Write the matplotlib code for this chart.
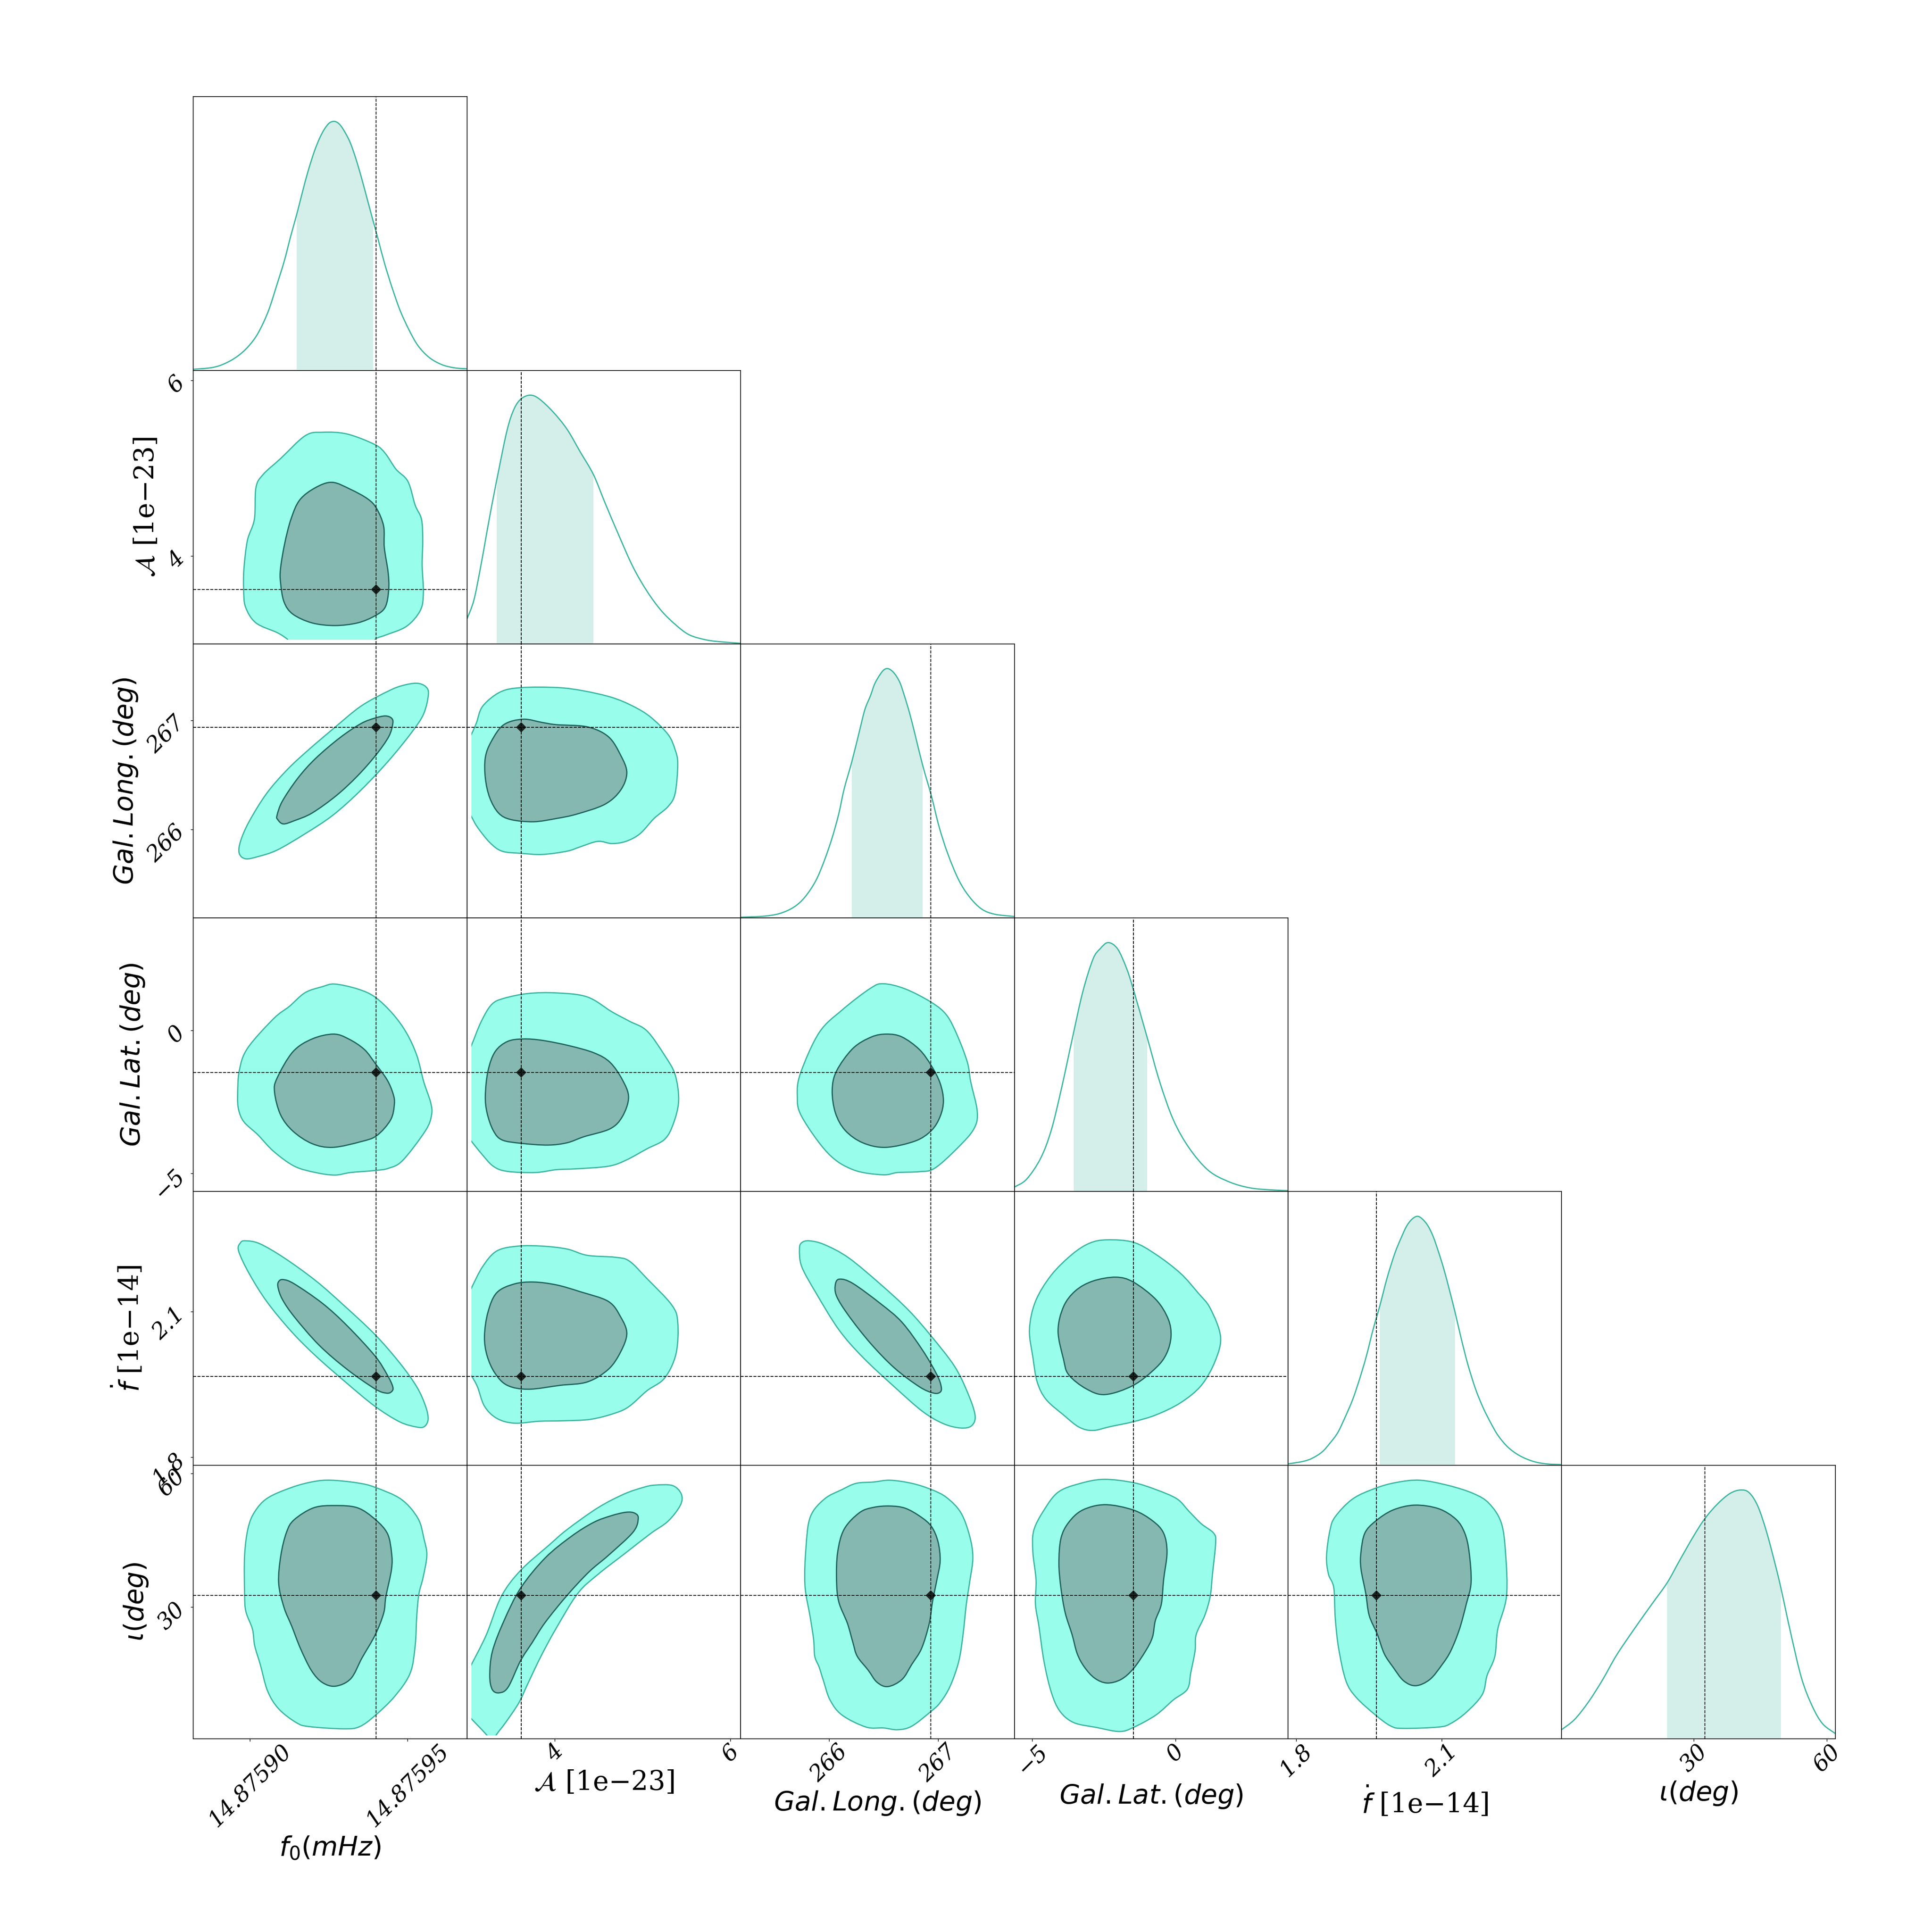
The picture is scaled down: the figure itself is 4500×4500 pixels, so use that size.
import numpy as np
import matplotlib
matplotlib.use('Agg')
import matplotlib.pyplot as plt
from matplotlib.patches import PathPatch, Rectangle
from matplotlib.path import Path

plt.rcParams['font.family'] = ['DejaVu Serif']

# Parameters. f0 values below are offsets from 14.8759 mHz in units of 1e-5 mHz.
labels = [r'$f_0 (mHz)$', '$\\mathcal{A}$ [1e\u221223]', r'$Gal. Long. (deg)$',
          r'$Gal. Lat. (deg)$', '$\\dot{f}$ [1e\u221214]', r'$\iota (deg)$']
lims = [(-1.8, 6.88), (3.0, 6.115), (265.19, 267.70), (-5.63, 3.94), (1.7836, 2.3478), (0.36, 61.9)]
grid_lo = [-1.8, 3.05, 265.19, -5.63, 1.7836, 1.1]
truths = [4.0, 3.62, 266.935, -1.47, 1.966, 32.6]
ticks = [[0, 5], [4, 6], [266, 267], [-5, 0], [1.8, 2.1], [30, 60]]
tick_labels = [['14.87590', '14.87595'], ['4', '6'], ['266', '267'],
               ['\u22125', '0'], ['1.8', '2.1'], ['30', '60']]

# 1D marginals: x, density relative to the peak, shaded interval
f0_x = [-1.80, -1.20, -0.80, -0.40, -0.05, 0.26, 0.58, 0.85, 1.09, 1.29, 1.48, 1.67, 1.84, 2.04, 2.21, 2.37, 2.53, 2.70, 2.86, 3.03, 3.19, 3.36, 3.53, 3.73, 3.90, 4.07, 4.27, 4.50, 4.76, 5.05, 5.33, 5.68, 6.08, 6.48, 6.88]
f0_d = [.004, .011, .027, .056, .096, .15, .237, .342, .44, .538, .625, .719, .799, .879, .933, .971, .995, 1, .986, .953, .912, .85, .777, .683, .603, .524, .429, .335, .241, .161, .099, .052, .023, .01, .006]
f0_band = (1.48, 3.90)
amp_x = [3.00, 3.08, 3.16, 3.26, 3.36, 3.46, 3.54, 3.62, 3.72, 3.82, 3.98, 4.14, 4.29, 4.44, 4.57, 4.73, 4.89, 5.05, 5.21, 5.37, 5.53, 5.73, 5.92, 6.115]
amp_d = [.10, .177, .317, .513, .695, .863, .947, .986, 1, .986, .933, .863, .772, .681, .569, .436, .31, .212, .135, .079, .037, .016, .008, .003]
amp_band = (3.34, 4.44)
lon_x = [265.19, 265.40, 265.55, 265.68, 265.78, 265.88, 265.96, 266.03, 266.09, 266.14, 266.21, 266.28, 266.33, 266.38, 266.42, 266.47, 266.51, 266.55, 266.60, 266.65, 266.69, 266.74, 266.79, 266.86, 266.94, 267.01, 267.09, 267.19, 267.29, 267.40, 267.52, 267.70]
lon_d = [.002, .006, .017, .043, .083, .149, .232, .322, .417, .518, .627, .75, .837, .891, .94, .978, .998, 1, .982, .946, .895, .822, .736, .612, .489, .366, .257, .152, .083, .035, .014, .005]
lon_band = (266.21, 266.86)
lat_x = [-5.62, -5.20, -4.71, -4.34, -3.98, -3.61, -3.24, -2.88, -2.63, -2.35, -2.02, -1.71, -1.47, -0.98, -0.55, -0.07, 0.48, 1.16, 1.89, 2.62, 3.35, 3.94]
lat_d = [.018, .049, .133, .245, .414, .61, .80, .933, .975, 1, .975, .898, .813, .617, .442, .288, .175, .084, .038, .014, .006, .003]
lat_band = (-3.55, -0.98)
fdot_x = [1.784, 1.815, 1.834, 1.854, 1.870, 1.886, 1.901, 1.917, 1.931, 1.945, 1.959, 1.973, 1.988, 2.004, 2.017, 2.028, 2.039, 2.050, 2.060, 2.072, 2.083, 2.094, 2.105, 2.117, 2.128, 2.140, 2.154, 2.170, 2.186, 2.202, 2.217, 2.237, 2.261, 2.289, 2.316, 2.348]
fdot_d = [.005, .015, .028, .053, .088, .13, .191, .264, .345, .437, .545, .641, .753, .852, .914, .96, .988, 1, .99, .962, .918, .856, .787, .699, .614, .514, .407, .307, .23, .168, .118, .072, .038, .015, .005, .002]
fdot_band = (1.973, 2.128)
inc_x = [.36, 3.27, 6.41, 9.55, 12.69, 16.62, 20.54, 24.07, 26.82, 29.96, 32.55, 35.46, 38.2, 40.56, 42.52, 44.48, 46.45, 48.41, 49.66, 51.94, 54.3, 56.65, 59.0, 61.9]
inc_d = [.037, .078, .149, .237, .336, .44, .539, .627, .715, .813, .885, .945, .986, 1, .989, .934, .83, .698, .605, .418, .243, .133, .061, .021]
inc_band = (24.07, 49.66)

# 2D contours (x param, y param), 95% outer and 68% inner
f0_amp_out_x = [2.30, 3.08, 3.96, 4.29, 4.63, 5.01, 5.24, 5.44, 5.48, 5.46, 5.50, 5.40, 4.96, 4.29, 3.99, 3.7, 1.5, 1.17, 0.86, 0.19, -0.14, -0.20, -0.19, -0.08, 0.14, 0.19, 0.42, 0.97, 1.75]
f0_amp_out_y = [5.41, 5.39, 5.27, 5.17, 4.99, 4.85, 4.58, 4.42, 4.18, 3.90, 3.58, 3.38, 3.20, 3.10, 3.06, 2.97, 2.97, 3.06, 3.13, 3.24, 3.42, 3.62, 3.86, 4.18, 4.42, 4.78, 4.93, 5.11, 5.37]
f0_amp_in_x = [2.61, 3.19, 3.74, 4.02, 4.24, 4.26, 4.38, 4.40, 4.29, 3.96, 3.41, 2.69, 1.97, 1.36, 1.08, 0.97, 0.97, 1.10, 1.30, 1.58, 2.08]
f0_amp_in_y = [4.84, 4.76, 4.65, 4.54, 4.34, 4.10, 3.82, 3.62, 3.42, 3.32, 3.24, 3.21, 3.24, 3.34, 3.48, 3.70, 3.86, 4.14, 4.42, 4.64, 4.78]

f0_lon_out_x = [5.29, 5.57, 5.66, 5.51, 5.13, 4.40, 3.52, 2.63, 1.75, 0.86, 0.25, -0.14, -0.34, -0.30, -0.03, 0.53, 1.19, 1.86, 2.63, 3.52, 4.40, 4.85]
f0_lon_out_y = [267.34, 267.31, 267.24, 267.06, 266.89, 266.63, 266.36, 266.13, 265.96, 265.81, 265.75, 265.73, 265.78, 265.89, 266.07, 266.33, 266.55, 266.73, 266.92, 267.13, 267.27, 267.32]
f0_lon_in_x = [4.29, 4.49, 4.53, 4.40, 3.99, 3.41, 2.74, 1.97, 1.41, 1.06, 0.88, 0.86, 1.03, 1.52, 2.08, 2.85, 3.52, 3.96]
f0_lon_in_y = [267.04, 267.02, 266.97, 266.85, 266.68, 266.49, 266.31, 266.15, 266.08, 266.05, 266.09, 266.13, 266.26, 266.47, 266.65, 266.84, 266.97, 267.02]

amp_lon_out_x = [3.62, 4.04, 4.33, 4.65, 4.89, 5.09, 5.29, 5.37, 5.40, 5.37, 5.29, 5.13, 4.97, 4.81, 4.65, 4.49, 4.29, 4.14, 3.86, 3.62, 3.40, 3.26, 3.12, 3.05, 2.97, 2.97, 3.05, 3.11, 3.18, 3.38]
amp_lon_out_y = [267.30, 267.30, 267.27, 267.21, 267.13, 267.03, 266.87, 266.73, 266.60, 266.33, 266.21, 266.10, 265.96, 265.89, 265.87, 265.89, 265.84, 265.80, 265.77, 265.78, 265.80, 265.88, 266.02, 266.12, 266.24, 266.75, 266.87, 266.98, 267.13, 267.26]
amp_lon_in_x = [3.64, 3.86, 4.02, 4.37, 4.61, 4.75, 4.82, 4.75, 4.57, 4.25, 4.02, 3.76, 3.50, 3.36, 3.26, 3.21, 3.21, 3.28, 3.42]
amp_lon_in_y = [267.01, 266.98, 266.96, 266.94, 266.85, 266.68, 266.52, 266.36, 266.23, 266.14, 266.10, 266.07, 266.09, 266.15, 266.29, 266.47, 266.66, 266.81, 266.96]

f0_lat_out_x = [2.69, 3.41, 3.96, 4.52, 4.96, 5.29, 5.51, 5.73, 5.76, 5.57, 4.85, 4.40, 3.96, 3.19, 2.69, 2.08, 1.41, 0.75, 0.25, -0.19, -0.36, -0.39, -0.34, -0.08, 0.75, 1.25, 1.75, 2.30]
f0_lat_out_y = [1.62, 1.45, 1.17, 0.59, -0.08, -0.87, -1.79, -2.52, -2.95, -3.50, -4.54, -4.82, -4.90, -4.97, -5.06, -4.97, -4.75, -4.23, -3.65, -3.20, -2.77, -2.28, -1.42, -0.63, 0.41, 0.84, 1.32, 1.53]
f0_lat_in_x = [2.65, 3.13, 3.63, 3.99, 4.35, 4.54, 4.58, 4.46, 4.02, 3.52, 2.63, 1.97, 1.36, 0.97, 0.78, 0.86, 1.36, 1.97]
f0_lat_in_y = [-0.13, -0.30, -0.67, -1.18, -1.73, -2.22, -2.58, -3.13, -3.68, -3.89, -4.09, -3.96, -3.52, -2.95, -2.16, -1.67, -0.75, -0.30]

amp_lat_out_x = [4.02, 4.37, 4.65, 4.85, 5.05, 5.25, 5.37, 5.41, 5.35, 5.25, 5.05, 4.81, 4.61, 4.25, 4.02, 3.78, 3.46, 3.30, 3.16, 3.05, 2.97, 2.97, 3.05, 3.16, 3.28, 3.42, 3.70]
amp_lat_out_y = [1.31, 1.17, 0.65, 0.32, -0.02, -0.87, -1.55, -2.46, -3.26, -3.81, -4.14, -4.54, -4.75, -4.84, -4.87, -4.97, -4.93, -4.75, -4.29, -3.87, -3.55, -1.1, -0.54, 0.29, 0.90, 1.12, 1.29]
amp_lat_in_x = [3.64, 3.86, 4.17, 4.45, 4.63, 4.77, 4.84, 4.77, 4.63, 4.33, 4.14, 3.92, 3.62, 3.40, 3.30, 3.23, 3.21, 3.24, 3.32, 3.46]
amp_lat_in_y = [-0.30, -0.35, -0.54, -0.79, -1.12, -1.73, -2.34, -3.01, -3.44, -3.72, -3.93, -4.01, -3.95, -3.83, -3.50, -2.89, -2.28, -1.42, -0.75, -0.39]

lon_lat_out_x = [266.50, 266.70, 266.94, 267.08, 267.18, 267.27, 267.30, 267.36, 267.33, 267.18, 266.97, 266.83, 266.63, 266.49, 266.22, 265.99, 265.75, 265.71, 265.74, 265.91, 266.12, 266.38]
lon_lat_out_y = [1.63, 1.45, 0.98, 0.53, -0.20, -1.12, -1.79, -2.83, -3.44, -4.11, -4.82, -4.94, -4.97, -5.05, -4.87, -4.29, -3.01, -2.28, -1.49, -0.08, 0.71, 1.47]
lon_lat_in_x = [266.53, 266.67, 266.83, 266.94, 267.02, 267.05, 267.02, 266.94, 266.79, 266.52, 266.31, 266.15, 266.06, 266.03, 266.07, 266.22, 266.39]
lon_lat_in_y = [-0.13, -0.23, -0.67, -1.24, -1.85, -2.46, -3.01, -3.50, -3.87, -4.09, -3.93, -3.50, -2.89, -2.10, -1.42, -0.63, -0.23]

f0_fdot_out_x = [-0.14, 0.31, 1.08, 2.08, 2.96, 3.96, 4.74, 5.29, 5.57, 5.65, 5.53, 5.29, 4.74, 3.96, 3.08, 2.08, 1.30, 0.53, -0.03, -0.36, -0.30]
f0_fdot_out_y = [2.246, 2.240, 2.211, 2.164, 2.114, 2.053, 1.995, 1.945, 1.905, 1.878, 1.863, 1.862, 1.873, 1.905, 1.952, 2.009, 2.060, 2.121, 2.179, 2.225, 2.242]
f0_fdot_in_x = [1.06, 1.41, 2.30, 3.08, 3.96, 4.35, 4.53, 4.49, 4.32, 3.96, 3.08, 2.19, 1.41, 1.03, 0.89, 0.91]
f0_fdot_in_y = [2.166, 2.157, 2.117, 2.071, 2.009, 1.970, 1.945, 1.935, 1.932, 1.941, 1.981, 2.031, 2.089, 2.125, 2.150, 2.162]

amp_fdot_out_x = [3.86, 4.14, 4.37, 4.69, 4.85, 5.05, 5.33, 5.40, 5.38, 5.25, 5.05, 4.85, 4.69, 4.41, 4.10, 3.82, 3.54, 3.34, 3.20, 3.12, 3.05, 2.97, 2.97, 3.05, 3.18, 3.34, 3.58]
amp_fdot_out_y = [2.235, 2.229, 2.216, 2.212, 2.204, 2.168, 2.114, 2.078, 2.013, 1.963, 1.937, 1.905, 1.891, 1.878, 1.875, 1.874, 1.870, 1.880, 1.905, 1.945, 1.968, 1.988, 2.117, 2.148, 2.193, 2.225, 2.235]
amp_fdot_in_x = [3.76, 4.02, 4.29, 4.61, 4.75, 4.82, 4.75, 4.61, 4.37, 4.06, 3.70, 3.46, 3.32, 3.23, 3.20, 3.24, 3.34, 3.54]
amp_fdot_in_y = [2.161, 2.155, 2.141, 2.121, 2.089, 2.055, 2.017, 1.981, 1.955, 1.948, 1.940, 1.948, 1.973, 2.009, 2.049, 2.099, 2.139, 2.157]

lon_fdot_out_x = [265.82, 265.96, 266.18, 266.47, 266.73, 266.94, 267.15, 267.27, 267.34, 267.31, 267.21, 267.05, 266.86, 266.60, 266.31, 266.09, 265.88, 265.75, 265.73, 265.75]
lon_fdot_out_y = [2.246, 2.238, 2.211, 2.157, 2.103, 2.049, 1.988, 1.934, 1.887, 1.865, 1.860, 1.869, 1.894, 1.945, 2.006, 2.063, 2.139, 2.193, 2.229, 2.242]
lon_fdot_in_x = [266.10, 266.22, 266.47, 266.67, 266.86, 266.99, 267.03, 267.02, 266.96, 266.83, 266.60, 266.38, 266.18, 266.07, 266.06]
lon_fdot_in_y = [2.167, 2.158, 2.117, 2.078, 2.020, 1.970, 1.945, 1.934, 1.932, 1.945, 1.984, 2.035, 2.092, 2.132, 2.157]

lat_fdot_out_x = [-2.39, -1.47, -0.68, 0.18, 0.79, 1.22, 1.58, 1.40, 0.91, 0.18, -0.68, -1.47, -2.27, -2.88, -3.37, -3.91, -4.52, -4.83, -4.98, -5.10, -4.89, -4.34, -3.61, -3.00]
lat_fdot_out_y = [2.248, 2.243, 2.218, 2.179, 2.139, 2.107, 2.049, 1.999, 1.948, 1.912, 1.887, 1.873, 1.863, 1.855, 1.862, 1.887, 1.919, 1.955, 2.006, 2.063, 2.121, 2.175, 2.218, 2.241]
lat_fdot_in_x = [-2.08, -1.47, -0.68, -0.25, -0.15, -0.31, -0.68, -1.47, -2.45, -3.12, -3.73, -3.91, -4.10, -3.91, -3.49, -2.88]
lat_fdot_in_y = [2.171, 2.161, 2.125, 2.085, 2.049, 2.013, 1.984, 1.948, 1.929, 1.941, 1.970, 2.002, 2.060, 2.110, 2.143, 2.163]

f0_inc_out_x = [2.58, 3.41, 3.97, 4.80, 5.33, 5.52, 5.61, 5.49, 5.36, 5.29, 5.24, 5.08, 4.59, 3.97, 3.48, 2.99, 1.88, 1.47, 0.91, 0.56, 0.33, 0.15, 0.08, -0.13, -0.17, -0.17, -0.06, 0.15, 0.56, 1.33, 2.02]
f0_inc_out_y = [58.5, 57.9, 56.9, 54.2, 49.9, 45.3, 41.6, 36.6, 33.0, 28.0, 21.3, 15.1, 9.9, 5.6, 3.1, 2.6, 3.1, 4.0, 7.1, 11.1, 17.0, 21.3, 25.0, 29.0, 33.0, 41.6, 47.7, 51.4, 54.5, 56.9, 58.2]
f0_inc_in_x = [2.69, 3.41, 3.97, 4.36, 4.49, 4.49, 4.31, 4.24, 3.97, 3.55, 3.20, 2.72, 2.30, 1.95, 1.60, 1.33, 1.08, 0.91, 0.98, 1.16, 1.40, 2.02]
f0_inc_in_y = [52.8, 52.3, 49.7, 46.5, 42.2, 38.5, 32.3, 28.6, 23.7, 18.5, 13.9, 12.2, 13.0, 15.7, 20.7, 25.6, 29.9, 35.4, 41.6, 46.8, 49.6, 52.3]

amp_inc_out_x = [5.14, 5.34, 5.44, 5.43, 5.29, 5.09, 4.79, 4.49, 4.26, 4.01, 3.84, 3.69, 3.59, 3.44, 3.33, 3.29, 3.23, 3.04, 2.94, 2.89, 2.94, 3.04, 3.22, 3.39, 3.61, 3.94, 4.14, 4.49, 4.79, 5.01]
amp_inc_out_y = [57.4, 57.3, 55.4, 52.9, 49.3, 46.5, 41.9, 37.3, 33.0, 25.0, 18.8, 12.6, 8.4, 4.0, 1.1, -0.9, 1.1, 5.1, 7.4, 10.2, 12.6, 16.6, 23.7, 32.3, 38.2, 44.0, 47.4, 52.3, 55.4, 56.9]
amp_inc_in_x = [4.81, 4.91, 4.95, 4.89, 4.61, 4.39, 4.14, 3.89, 3.74, 3.61, 3.47, 3.37, 3.29, 3.26, 3.29, 3.42, 3.61, 3.89, 4.19, 4.44, 4.64]
amp_inc_in_y = [51.3, 51.1, 49.9, 46.8, 41.6, 37.9, 32.6, 26.5, 21.9, 17.9, 12.0, 10.7, 11.4, 14.5, 20.0, 26.8, 34.2, 41.0, 45.9, 49.0, 50.5]

lon_inc_out_x = [266.56, 266.76, 266.94, 267.08, 267.21, 267.29, 267.32, 267.29, 267.26, 267.23, 267.19, 267.11, 267.02, 266.94, 266.76, 266.63, 266.50, 266.34, 266.12, 266.01, 265.95, 265.91, 265.87, 265.86, 265.83, 265.78, 265.79, 265.83, 265.96, 266.12, 266.25, 266.41]
lon_inc_out_y = [58.5, 57.8, 56.4, 54.6, 51.2, 46.0, 41.1, 35.5, 30.6, 23.8, 17.7, 12.1, 8.5, 6.6, 3.2, 2.4, 2.8, 3.0, 5.7, 9.1, 13.4, 16.5, 18.9, 22.6, 27.5, 34.9, 43.5, 50.3, 54.3, 56.4, 57.8, 58.1]
lon_inc_in_x = [266.56, 266.70, 266.84, 266.94, 267.00, 267.02, 266.99, 266.95, 266.92, 266.85, 266.76, 266.67, 266.54, 266.44, 266.36, 266.26, 266.22, 266.17, 266.09, 266.07, 266.08, 266.14, 266.28, 266.41]
lon_inc_in_y = [52.7, 52.2, 50.3, 48.1, 44.7, 40.4, 36.1, 31.2, 26.3, 20.7, 17.1, 13.7, 12.1, 13.1, 15.8, 18.9, 22.0, 26.3, 31.2, 36.1, 42.3, 47.5, 51.2, 52.4]

lat_inc_out_x = [-2.51, -1.47, -0.68, 0.06, 0.48, 0.91, 1.34, 1.41, 1.30, 1.22, 1.03, 0.73, 0.69, 0.54, 0.42, -0.07, -0.68, -1.47, -1.96, -2.75, -3.55, -4.04, -4.34, -4.59, -4.77, -4.89, -4.87, -4.98, -4.95, -4.59, -4.10, -3.37]
lat_inc_out_y = [58.7, 57.96, 56.4, 54.3, 51.5, 48.7, 46.6, 44.4, 37.4, 32.4, 28.1, 23.8, 20.1, 15.2, 11.5, 9.1, 5.7, 2.9, 2.0, 2.9, 4.0, 6.6, 10.9, 17.7, 25.7, 30.6, 36.1, 42.3, 47.2, 51.8, 55.8, 57.7]
lat_inc_in_x = [-2.45, -1.47, -0.80, -0.41, -0.29, -0.41, -0.49, -0.70, -0.80, -1.04, -1.47, -1.90, -2.39, -2.82, -3.18, -3.43, -3.61, -3.85, -4.00, -4.07, -4.00, -3.73, -3.24]
lat_inc_in_y = [53.0, 51.8, 49.4, 46.6, 42.3, 36.1, 30.6, 26.9, 23.2, 20.1, 16.1, 13.7, 12.9, 14.0, 16.5, 19.5, 23.8, 28.7, 34.3, 39.8, 45.4, 49.0, 51.8]

fdot_inc_out_x = [2.056, 2.115, 2.166, 2.198, 2.223, 2.232, 2.234, 2.216, 2.210, 2.194, 2.184, 2.151, 2.119, 2.094, 2.022, 1.996, 1.964, 1.924, 1.903, 1.888, 1.881, 1.878, 1.867, 1.863, 1.870, 1.881, 1.917, 1.964, 2.007]
fdot_inc_out_y = [58.5, 57.3, 55.5, 53.3, 49.0, 42.3, 32.4, 25.0, 18.9, 14.6, 10.3, 6.3, 3.8, 3.0, 2.7, 3.2, 5.7, 9.7, 13.4, 20.7, 27.5, 34.3, 37.4, 41.4, 47.2, 50.3, 54.3, 56.7, 58.0]
fdot_inc_in_x = [2.045, 2.094, 2.130, 2.148, 2.157, 2.161, 2.151, 2.137, 2.119, 2.101, 2.076, 2.047, 2.022, 2.000, 1.982, 1.968, 1.951, 1.944, 1.934, 1.934, 1.942, 1.964, 2.000]
fdot_inc_in_y = [52.9, 52.1, 49.7, 46.6, 42.3, 35.5, 30.6, 25.0, 20.1, 17.0, 13.7, 12.3, 13.4, 16.5, 19.5, 23.8, 28.1, 33.0, 38.6, 42.3, 46.6, 49.3, 51.8]

marginals = [(f0_x, f0_d, f0_band), (amp_x, amp_d, amp_band), (lon_x, lon_d, lon_band),
             (lat_x, lat_d, lat_band), (fdot_x, fdot_d, fdot_band), (inc_x, inc_d, inc_band)]
contours = {
    (1, 0): (f0_amp_out_x, f0_amp_out_y, f0_amp_in_x, f0_amp_in_y),
    (2, 0): (f0_lon_out_x, f0_lon_out_y, f0_lon_in_x, f0_lon_in_y),
    (2, 1): (amp_lon_out_x, amp_lon_out_y, amp_lon_in_x, amp_lon_in_y),
    (3, 0): (f0_lat_out_x, f0_lat_out_y, f0_lat_in_x, f0_lat_in_y),
    (3, 1): (amp_lat_out_x, amp_lat_out_y, amp_lat_in_x, amp_lat_in_y),
    (3, 2): (lon_lat_out_x, lon_lat_out_y, lon_lat_in_x, lon_lat_in_y),
    (4, 0): (f0_fdot_out_x, f0_fdot_out_y, f0_fdot_in_x, f0_fdot_in_y),
    (4, 1): (amp_fdot_out_x, amp_fdot_out_y, amp_fdot_in_x, amp_fdot_in_y),
    (4, 2): (lon_fdot_out_x, lon_fdot_out_y, lon_fdot_in_x, lon_fdot_in_y),
    (4, 3): (lat_fdot_out_x, lat_fdot_out_y, lat_fdot_in_x, lat_fdot_in_y),
    (5, 0): (f0_inc_out_x, f0_inc_out_y, f0_inc_in_x, f0_inc_in_y),
    (5, 1): (amp_inc_out_x, amp_inc_out_y, amp_inc_in_x, amp_inc_in_y),
    (5, 2): (lon_inc_out_x, lon_inc_out_y, lon_inc_in_x, lon_inc_in_y),
    (5, 3): (lat_inc_out_x, lat_inc_out_y, lat_inc_in_x, lat_inc_in_y),
    (5, 4): (fdot_inc_out_x, fdot_inc_out_y, fdot_inc_in_x, fdot_inc_in_y),
}

LINE = '#3cb5a0'
OUTER = '#98fdea'
INNER = '#84b8b0'
INNER_EDGE = '#20635c'
BAND = '#d4eee9'


def closed_curve(x, y):
    # closed Catmull-Rom outline as cubic Bezier segments
    p = np.column_stack([x, y])
    n = len(p)
    verts = [p[0]]
    codes = [Path.MOVETO]
    for i in range(n):
        c1 = p[i] + (p[(i + 1) % n] - p[i - 1]) / 6
        c2 = p[(i + 1) % n] - (p[(i + 2) % n] - p[i]) / 6
        verts += [c1, c2, p[(i + 1) % n]]
        codes += [Path.CURVE4] * 3
    return Path(verts, codes)


def open_curve(x, y):
    p = np.column_stack([x, y])
    n = len(p)
    verts = [p[0]]
    codes = [Path.MOVETO]
    for i in range(n - 1):
        c1 = p[i] + (p[i + 1] - p[max(i - 1, 0)]) / 6
        c2 = p[i + 1] - (p[min(i + 2, n - 1)] - p[i]) / 6
        verts += [c1, c2, p[i + 1]]
        codes += [Path.CURVE4] * 3
    return verts, codes


def style_ticks(ax, row, col):
    ax.set_xlim(lims[col])
    ax.set_xticks(ticks[col] if row == 5 else [])
    if row == 5:
        ax.set_xticklabels(tick_labels[col], rotation=45, style='italic')
        ax.set_xlabel(labels[col], fontsize=15, labelpad=2)
    ax.tick_params(length=1.4, width=0.35, labelsize=12.5)
    ax.tick_params(axis='x', pad=-0.5)
    ax.tick_params(axis='y', pad=1)
    for spine in ax.spines.values():
        spine.set_linewidth(0.4)


fig = plt.figure(figsize=(15, 15))
gs = fig.add_gridspec(6, 6, left=0.1, right=0.95, top=0.95, bottom=0.1, wspace=0, hspace=0)

for i in range(6):
    ax = fig.add_subplot(gs[i, i])
    x, d, band = marginals[i]
    verts, codes = open_curve(x, d)
    area = Path(verts + [(x[-1], 0), (x[0], 0), verts[0]], codes + [Path.LINETO] * 3)
    span = ax.axvspan(band[0], band[1], fc=BAND, lw=0)
    span.set_clip_path(area, transform=ax.transData)
    ax.add_patch(PathPatch(Path(verts, codes), fc='none', ec=LINE, lw=0.7))
    ax.axvline(truths[i], color='k', ls='--', lw=0.45)
    ax.set_ylim(0, 1.1)
    ax.set_yticks([])
    style_ticks(ax, i, i)

for (row, col), (ox, oy, ix, iy) in contours.items():
    ax = fig.add_subplot(gs[row, col])
    grid = Rectangle((grid_lo[col], grid_lo[row]), lims[col][1] - grid_lo[col],
                     lims[row][1] - grid_lo[row], transform=ax.transData)
    outer = PathPatch(closed_curve(ox, oy), fc=OUTER, ec=LINE, lw=0.7, zorder=2)
    inner = PathPatch(closed_curve(ix, iy), fc=INNER, ec=INNER_EDGE, lw=0.7, zorder=3)
    ax.add_patch(outer)
    ax.add_patch(inner)
    outer.set_clip_path(grid)
    inner.set_clip_path(grid)
    ax.axvline(truths[col], color='k', ls='--', lw=0.45, zorder=4)
    ax.axhline(truths[row], color='k', ls='--', lw=0.45, zorder=4)
    ax.plot(truths[col], truths[row], 'D', color='k', alpha=0.8, ms=4.2, mew=0, zorder=5)
    ax.set_ylim(lims[row])
    style_ticks(ax, row, col)
    if col == 0:
        ax.set_yticks(ticks[row])
        ax.set_yticklabels(tick_labels[row], rotation=45, style='italic')
        ax.set_ylabel(labels[row], fontsize=15, labelpad=2)
    else:
        ax.set_yticks([])

fig.savefig('out.png', dpi=300)
